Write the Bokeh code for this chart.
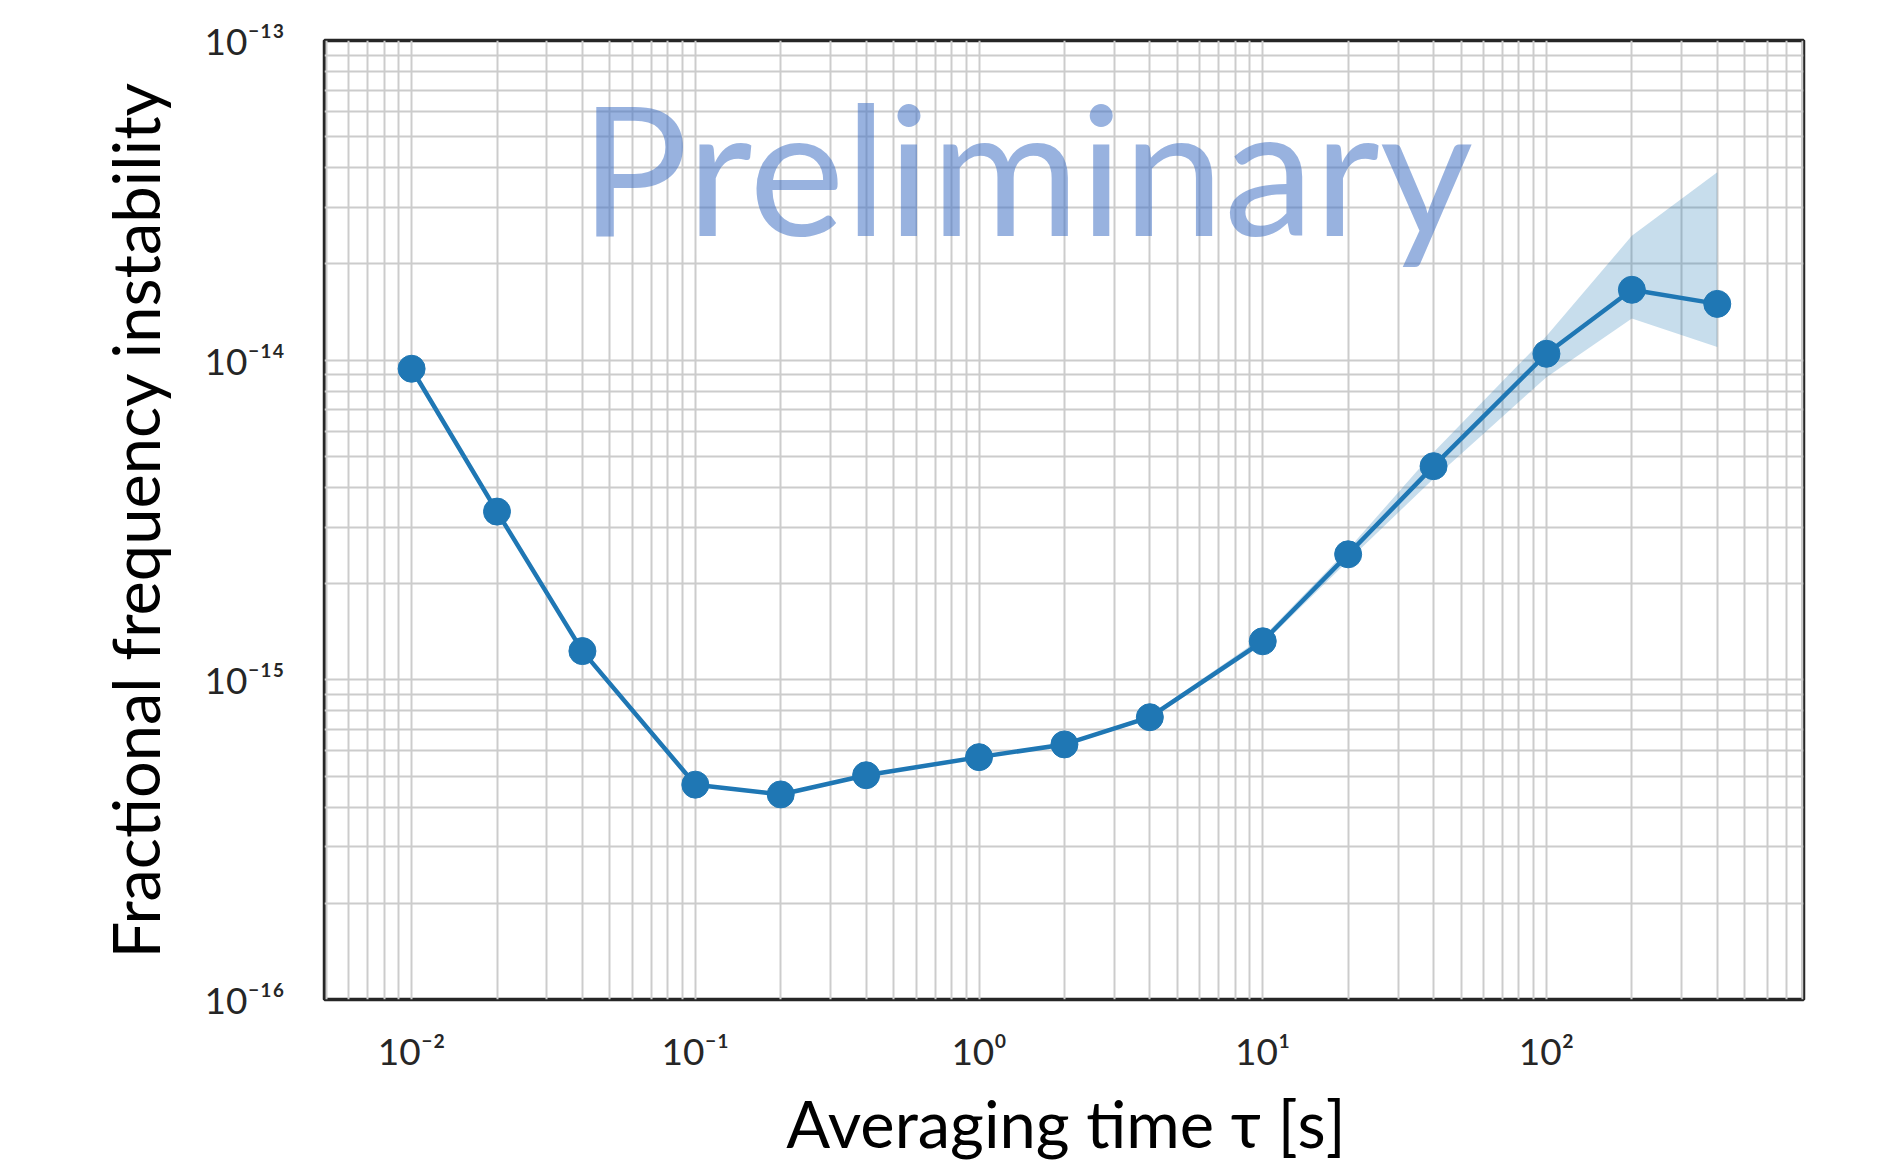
from bokeh.plotting import figure
from bokeh.models import Range1d, FixedTicker, Label, ColumnDataSource
from bokeh.embed import file_html
from bokeh.resources import INLINE

# ---- data ----
tau = [0.01, 0.02, 0.04, 0.1, 0.2, 0.4, 1, 2, 4, 10, 20, 40, 100, 200, 400]
adev = [9.4e-15, 3.36e-15, 1.23e-15, 4.70e-16, 4.38e-16, 5.03e-16, 5.73e-16,
        6.28e-16, 7.64e-16, 1.32e-15, 2.47e-15, 4.66e-15, 1.047e-14, 1.66e-14, 1.50e-14]
adev_lo = [9.35e-15, 3.34e-15, 1.22e-15, 4.67e-16, 4.35e-16, 4.99e-16, 5.68e-16,
           6.22e-16, 7.52e-16, 1.29e-15, 2.36e-15, 4.26e-15, 8.85e-15, 1.35e-14, 1.10e-14]
adev_hi = [9.45e-15, 3.38e-15, 1.24e-15, 4.73e-16, 4.41e-16, 5.07e-16, 5.78e-16,
           6.34e-16, 7.76e-16, 1.36e-15, 2.56e-15, 5.15e-15, 1.19e-14, 2.45e-14, 3.87e-14]

x_ticks = [1e-2, 1e-1, 1e0, 1e1, 1e2]
x_tick_labels = ["10\u207b\u00b2", "10\u207b\u00b9", "10\u2070", "10\u00b9", "10\u00b2"]
y_ticks = [1e-16, 1e-15, 1e-14, 1e-13]
y_tick_labels = ["10\u207b\u00b9\u2076", "10\u207b\u00b9\u2075", "10\u207b\u00b9\u2074", "10\u207b\u00b9\u00b3"]

x_label = "Averaging time \u03c4 [s]"
y_label = "Fractional frequency instability"
watermark = "Preliminary"

x_minor = [m * 10.0 ** k for k in range(-3, 3) for m in range(2, 10)]
y_minor = [m * 10.0 ** k for k in range(-17, -13) for m in range(2, 10)]

src = ColumnDataSource(dict(tau=tau, adev=adev, lo=adev_lo, hi=adev_hi))

p = figure(width=1870, height=1171, x_axis_type="log", y_axis_type="log",
           x_range=Range1d(10 ** -2.307, 10 ** 2.906), y_range=Range1d(1e-16, 1e-13),
           output_backend="svg", toolbar_location=None,
           min_border_left=324, min_border_top=40, min_border_right=67, min_border_bottom=172)

p.background_fill_color = "white"
p.border_fill_color = "white"
p.outline_line_color = "#262626"
p.outline_line_width = 3.5

p.xaxis.ticker = FixedTicker(ticks=x_ticks, minor_ticks=x_minor)
p.yaxis.ticker = FixedTicker(ticks=y_ticks, minor_ticks=y_minor)
p.xaxis.major_label_overrides = dict(zip(x_ticks, x_tick_labels))
p.yaxis.major_label_overrides = dict(zip(y_ticks, y_tick_labels))

for ax in (p.xaxis, p.yaxis):
    ax.axis_line_color = None
    ax.major_tick_line_color = None
    ax.minor_tick_line_color = None
    ax.major_tick_out = 0
    ax.major_label_text_font = "Lato"
    ax.major_label_text_font_size = "37px"
    ax.major_label_text_color = "#262626"
    ax.axis_label_text_font = "Lato"
    ax.axis_label_text_font_size = "65px"
    ax.axis_label_text_font_style = "normal"
    ax.axis_label_text_color = "black"

p.xaxis.axis_label = x_label
p.yaxis.axis_label = y_label
p.xaxis.major_label_standoff = 24
p.yaxis.major_label_standoff = 36
p.xaxis.axis_label_standoff = 8
p.yaxis.axis_label_standoff = 28

for g in (p.xgrid, p.ygrid):
    g.grid_line_color = "#cccccc"
    g.grid_line_width = 2
    g.minor_grid_line_color = "#cccccc"
    g.minor_grid_line_width = 2

p.varea(x="tau", y1="lo", y2="hi", source=src, fill_color="#1f77b4", fill_alpha=0.25)
p.line(x="tau", y="adev", source=src, line_color="#1f77b4", line_width=4.5)
p.scatter(x="tau", y="adev", source=src, size=27, fill_color="#1f77b4", line_color="#1f77b4")

p.add_layout(Label(x=1.47, y=4.05e-14, text=watermark, text_font="Lato",
                   text_font_size="181px", text_color="#4472C4", text_alpha=0.55,
                   text_align="center", text_baseline="alphabetic"))

open("out.html", "w").write(file_html(p, INLINE))
